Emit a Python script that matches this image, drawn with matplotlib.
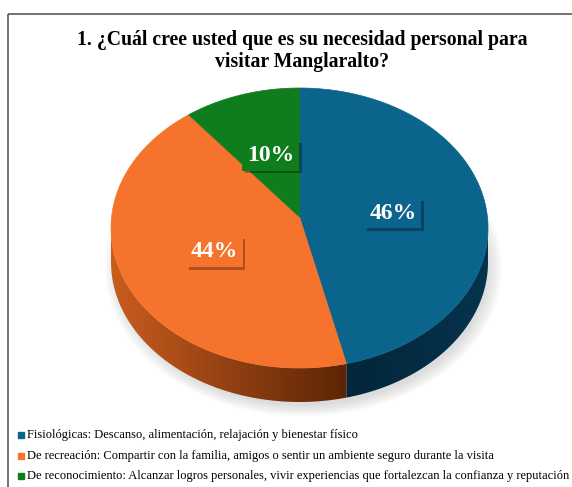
import numpy as np
import matplotlib.pyplot as plt
import matplotlib.patheffects as pe
from matplotlib.patches import Polygon, Rectangle, Ellipse
import matplotlib.colors as mc

# data
categories = [
    "Fisiológicas: Descanso, alimentación, relajación y bienestar físico",
    "De recreación: Compartir con la familia, amigos o sentir un ambiente seguro durante la visita",
    "De reconocimiento: Alcanzar logros personales, vivir experiencias que fortalezcan la confianza y reputación",
]
values = [46, 44, 10]
labels = ["46%", "44%", "10%"]
title = "1. ¿Cuál cree usted que es su necesidad personal para\nvisitar Manglaralto?"

top_colors = ["#0a648c", "#f5732d", "#0f7d1e"]
side_left = ["#03263a", "#c95d1f", "#0b5a16"]
side_right = ["#06344d", "#5c2405", "#0b5a16"]

serif = "Liberation Serif"

fig = plt.figure(figsize=(5.72, 4.87), dpi=100)
ax = fig.add_axes([0, 0, 1, 1])
ax.set_xlim(0, 572)
ax.set_ylim(487, 0)
ax.axis("off")

# outer frame (runs past the right / bottom edge)
ax.add_patch(Rectangle((8, 14), 620, 520, fill=False, ec="#5a5a5a", lw=1.2))

ax.text(302, 51, title, ha="center", va="center", fontsize=14.2, fontweight="bold",
        family=serif, linespacing=1.1)

# 3d pie geometry
cx, cy, a, b, depth = 299.5, 228, 188.5, 140, 34
apex_y = 217


def edge(theta):
    t = np.radians(theta)
    return cx + a * np.cos(t), cy - b * np.sin(t)


# soft shadow
for k in range(8):
    ax.add_patch(Ellipse((cx + 4, cy + depth + 6), 2 * a + 20 - 4 * k, 2 * b + 16 - 3 * k,
                         fc="gray", ec="none", alpha=0.035, zorder=1))

fr = np.array(values) / sum(values)
ends = 90 - 360 * np.cumsum(fr)
starts = np.concatenate([[90], ends[:-1]])

# side walls, gradient clipped to each wall
for i in range(len(values)):
    for shift in (-360, 0, 360):
        lo = max(ends[i] + shift, -180)
        hi = min(starts[i] + shift, 0)
        if hi <= lo:
            continue
        th = np.linspace(lo, hi, 200)
        xs, ys = edge(th)
        pts = list(zip(xs, ys)) + list(zip(xs[::-1], ys[::-1] + depth))
        wall = Polygon(pts, closed=True, fc="none", ec="none")
        ax.add_patch(wall)
        c0 = np.array(mc.to_rgb(side_left[i]))
        c1 = np.array(mc.to_rgb(side_right[i]))
        f = np.linspace(0, 1, 256)[None, :, None]
        img = c0 + (c1 - c0) * f
        im = ax.imshow(img, extent=(xs.min() - 1, xs.max() + 1, ys.max() + depth + 1, ys.min() - 1),
                       aspect="auto", interpolation="bilinear", zorder=2)
        im.set_clip_path(wall)

ax.set_xlim(0, 572)
ax.set_ylim(487, 0)

# top face
for i in range(len(values)):
    th = np.linspace(starts[i], ends[i], 200)
    xs, ys = edge(th)
    pts = [(cx, apex_y)] + list(zip(xs, ys))
    ax.add_patch(Polygon(pts, closed=True, fc=top_colors[i], ec=top_colors[i], lw=0.5, zorder=3))

# labels
for i in range(len(values)):
    mid = np.radians((starts[i] + ends[i]) / 2)
    lx = cx + 0.5 * a * np.cos(mid)
    ly = 222 - 0.5 * b * np.sin(mid)
    t = ax.text(lx, ly, labels[i], ha="center", va="center", fontsize=17, fontweight="bold",
                family=serif, color="white", zorder=5,
                bbox=dict(boxstyle="square,pad=0.2", fc=top_colors[i], ec="none"))
    t.get_bbox_patch().set_path_effects(
        [pe.withSimplePatchShadow(offset=(2, -2), shadow_rgbFace="black", alpha=0.3)])

# legend
for i, cat in enumerate(categories):
    y = 435 + 20.5 * i
    ax.plot(21, y, marker="s", markersize=4, color=top_colors[i], zorder=5)
    ax.text(27, y, cat, ha="left", va="center", fontsize=9, family=serif)

fig.savefig("out.png", dpi=100)
